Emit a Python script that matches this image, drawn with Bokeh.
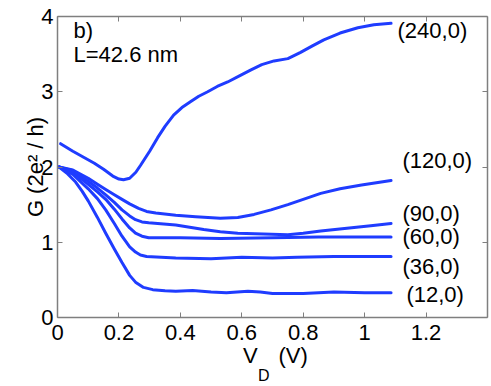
from bokeh.plotting import figure
from bokeh.models import Range1d, FixedTicker, LinearAxis, Label
from bokeh.embed import file_html
from bokeh.resources import INLINE

# ---- data ----
x240 = [0.01, 0.05, 0.085, 0.12, 0.15, 0.18, 0.20, 0.215, 0.235, 0.255, 0.27, 0.30, 0.326, 0.35, 0.378, 0.405, 0.434, 0.46, 0.489, 0.52, 0.554, 0.597, 0.63, 0.665, 0.705, 0.75, 0.79, 0.83, 0.867, 0.92, 0.978, 1.03, 1.086]
y240 = [2.31, 2.21, 2.13, 2.05, 1.97, 1.88, 1.84, 1.83, 1.85, 1.93, 2.02, 2.21, 2.39, 2.54, 2.69, 2.79, 2.87, 2.94, 3.00, 3.07, 3.13, 3.22, 3.29, 3.36, 3.41, 3.44, 3.52, 3.61, 3.69, 3.78, 3.85, 3.89, 3.91]

x120 = [0.005, 0.05, 0.10, 0.13, 0.157, 0.185, 0.21, 0.235, 0.264, 0.29, 0.32, 0.385, 0.45, 0.53, 0.587, 0.64, 0.695, 0.75, 0.80, 0.857, 0.92, 0.99, 1.086]
y120 = [2.00, 1.96, 1.85, 1.77, 1.70, 1.63, 1.57, 1.51, 1.45, 1.41, 1.39, 1.36, 1.34, 1.32, 1.33, 1.37, 1.43, 1.50, 1.57, 1.65, 1.71, 1.76, 1.82]

x90 = [0.005, 0.05, 0.10, 0.13, 0.157, 0.185, 0.21, 0.235, 0.254, 0.275, 0.297, 0.385, 0.476, 0.53, 0.587, 0.67, 0.75, 0.80, 0.857, 0.95, 1.02, 1.086]
y90 = [2.00, 1.95, 1.81, 1.72, 1.63, 1.53, 1.43, 1.35, 1.30, 1.27, 1.26, 1.23, 1.17, 1.14, 1.12, 1.11, 1.10, 1.12, 1.15, 1.19, 1.22, 1.25]

x60 = [0.005, 0.05, 0.10, 0.13, 0.157, 0.185, 0.21, 0.235, 0.254, 0.275, 0.297, 0.40, 0.53, 0.70, 0.85, 1.086]
y60 = [2.00, 1.93, 1.77, 1.67, 1.57, 1.44, 1.31, 1.19, 1.12, 1.08, 1.06, 1.06, 1.05, 1.06, 1.07, 1.07]

x36 = [0.005, 0.05, 0.10, 0.13, 0.157, 0.185, 0.21, 0.235, 0.254, 0.27, 0.29, 0.385, 0.50, 0.60, 0.70, 0.78, 0.90, 1.086]
y36 = [2.00, 1.90, 1.71, 1.58, 1.43, 1.25, 1.08, 0.94, 0.87, 0.83, 0.81, 0.79, 0.78, 0.80, 0.79, 0.80, 0.81, 0.81]

x12 = [0.005, 0.03, 0.059, 0.08, 0.10, 0.13, 0.157, 0.185, 0.21, 0.235, 0.254, 0.28, 0.31, 0.35, 0.385, 0.44, 0.50, 0.55, 0.62, 0.66, 0.70, 0.80, 0.90, 1.00, 1.086]
y12 = [2.00, 1.92, 1.80, 1.68, 1.55, 1.33, 1.12, 0.91, 0.73, 0.56, 0.47, 0.40, 0.37, 0.355, 0.35, 0.36, 0.34, 0.33, 0.35, 0.34, 0.32, 0.32, 0.34, 0.33, 0.33]

series_names = ["(240,0)", "(120,0)", "(90,0)", "(60,0)", "(36,0)", "(12,0)"]
series_x = [x240, x120, x90, x60, x36, x12]
series_y = [y240, y120, y90, y60, y36, y12]
label_x = [1.107, 1.123, 1.123, 1.123, 1.123, 1.136]
label_y = [3.82, 2.08, 1.38, 1.07, 0.68, 0.30]

x_ticks = [0, 0.2, 0.4, 0.6, 0.8, 1, 1.2]
x_tick_labels = ["0", "0.2", "0.4", "0.6", "0.8", "1", "1.2"]
y_ticks = [0, 1, 2, 3, 4]

FONT = "Liberation Sans"
FS = "22px"
BLUE = "#1f3cff"
GRAY = "#7f7f7f"

p = figure(width=491, height=386, output_backend="svg", toolbar_location=None,
           x_range=Range1d(0, 1.4), y_range=Range1d(0, 4),
           min_border_left=57, min_border_right=4, min_border_top=16, min_border_bottom=63)
p.outline_line_color = None
p.xgrid.visible = False
p.ygrid.visible = False
p.background_fill_color = "white"
p.border_fill_color = "white"

def style_axis(ax, labels=True):
    ax.axis_line_color = GRAY
    ax.axis_line_width = 1.5
    ax.major_tick_line_color = GRAY
    ax.major_tick_line_width = 1
    ax.major_tick_in = 5
    ax.major_tick_out = 0
    ax.minor_tick_line_color = None
    ax.major_label_text_font = FONT
    ax.major_label_text_color = "black"
    if labels:
        ax.major_label_text_font_size = FS
    else:
        ax.major_label_text_font_size = "1px"
        ax.major_label_text_color = None
        ax.major_label_standoff = 0

xa = p.xaxis[0]
xa.ticker = FixedTicker(ticks=x_ticks)
xa.major_label_overrides = {t: s for t, s in zip(x_ticks, x_tick_labels)}
style_axis(xa)
xa.major_label_standoff = 7

ya = p.yaxis[0]
ya.ticker = FixedTicker(ticks=y_ticks)
style_axis(ya)
ya.major_label_standoff = 4
ya.axis_label = "G (2e\u00b2 / h)"
ya.axis_label_text_font = FONT
ya.axis_label_text_font_size = FS
ya.axis_label_text_font_style = "normal"
ya.axis_label_text_color = "black"
ya.axis_label_standoff = -10

top = LinearAxis(ticker=FixedTicker(ticks=x_ticks))
style_axis(top, labels=False)
p.add_layout(top, "above")
right = LinearAxis(ticker=FixedTicker(ticks=y_ticks))
style_axis(right, labels=False)
p.add_layout(right, "right")

# x-axis title "V_D (V)" drawn as tick labels of two extra label-only axes
xlab_pos = [0.628, 0.767]
xlab_txt = ["V", "(V)"]
ax_v = LinearAxis(ticker=FixedTicker(ticks=xlab_pos),
                  major_label_overrides={t: s for t, s in zip(xlab_pos, xlab_txt)})
ax_v.axis_line_color = None
ax_v.major_tick_line_color = None
ax_v.minor_tick_line_color = None
ax_v.major_label_text_font = FONT
ax_v.major_label_text_font_size = FS
ax_v.major_label_text_color = "black"
ax_v.major_label_standoff = -6
p.add_layout(ax_v, "below")

sub_pos = [0.672]
ax_d = LinearAxis(ticker=FixedTicker(ticks=sub_pos), major_label_overrides={sub_pos[0]: "D"})
ax_d.axis_line_color = None
ax_d.major_tick_line_color = None
ax_d.minor_tick_line_color = None
ax_d.major_label_text_font = FONT
ax_d.major_label_text_font_size = "16px"
ax_d.major_label_text_color = "black"
ax_d.major_label_standoff = -10
p.add_layout(ax_d, "below")

for xs, ys in zip(series_x, series_y):
    p.line(xs, ys, line_color=BLUE, line_width=3, line_join="round", line_cap="round")

for name, lx, ly in zip(series_names, label_x, label_y):
    p.add_layout(Label(x=lx, y=ly, text=name, text_font=FONT, text_font_size=FS,
                       text_baseline="middle", text_align="left", text_color="black"))

p.add_layout(Label(x=0.052, y=3.82, text="b)", text_font=FONT, text_font_size=FS,
                   text_baseline="middle", text_align="left", text_color="black"))
p.add_layout(Label(x=0.052, y=3.49, text="L=42.6 nm", text_font=FONT, text_font_size=FS,
                   text_baseline="middle", text_align="left", text_color="black"))

open("out.html", "w").write(file_html(p, INLINE))
